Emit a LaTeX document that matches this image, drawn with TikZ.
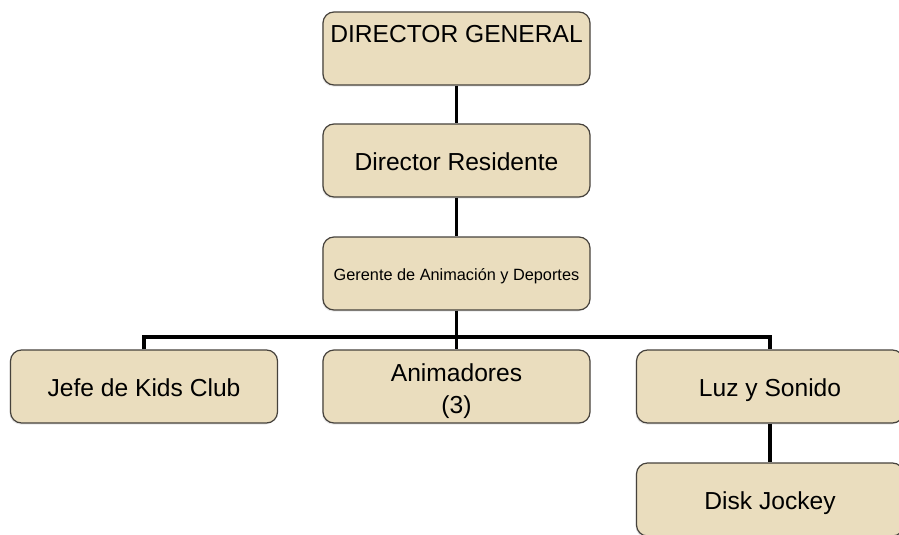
\documentclass[tikz,border=0pt]{standalone}
\usepackage{fontspec}
\setmainfont{Liberation Sans}
\usetikzlibrary{shadows}
\definecolor{sand}{RGB}{234,221,190}
\definecolor{edge}{RGB}{70,66,60}
\begin{document}
\begin{tikzpicture}[x=1pt,y=-1pt,
  box/.style={draw=edge, line width=1.2pt, fill=sand, rounded corners=11pt,
    minimum width=267pt, minimum height=73pt, inner sep=0pt, align=center,
    font=\fontsize{24.6}{32}\selectfont, text height=19pt, text depth=0pt,
    drop shadow={opacity=0.18, shadow xshift=-1pt, shadow yshift=-1.5pt}},
  conn/.style={line width=3.2pt, black}]
\useasboundingbox (0,0) rectangle (899,535);
\clip (0,0) rectangle (899,535);
\node[box, text height=10pt, text depth=21pt] (dg) at (456.5,48.5) {DIRECTOR GENERAL};
\node[box] (dr) at (456.5,160.5) {Director Residente};
\node[box, font=\fontsize{16.3}{20}\selectfont, text height=13pt] (ga) at (456.5,273.5) {Gerente de Animación y Deportes};
\node[box] (jk) at (144,386.5) {Jefe de Kids Club};
\node[box, text height={}, text depth={}] (an) at (456.5,386.5) {\rule{0pt}{27pt}Animadores\\(3)};
\node[box] (ls) at (770,386.5) {Luz y Sonido};
\node[box] (dj) at (770,499.5) {Disk Jockey};
\coordinate (bar) at (456.5,337);
\draw[conn] (dg.south) -- (dr.north);
\draw[conn] (dr.south) -- (ga.north);
\draw[conn] (ga.south) -- (an.north);
\draw[conn] (jk.north) |- (bar) -| (ls.north);
\draw[conn] (ls.south) -- (dj.north);
\end{tikzpicture}
\end{document}
